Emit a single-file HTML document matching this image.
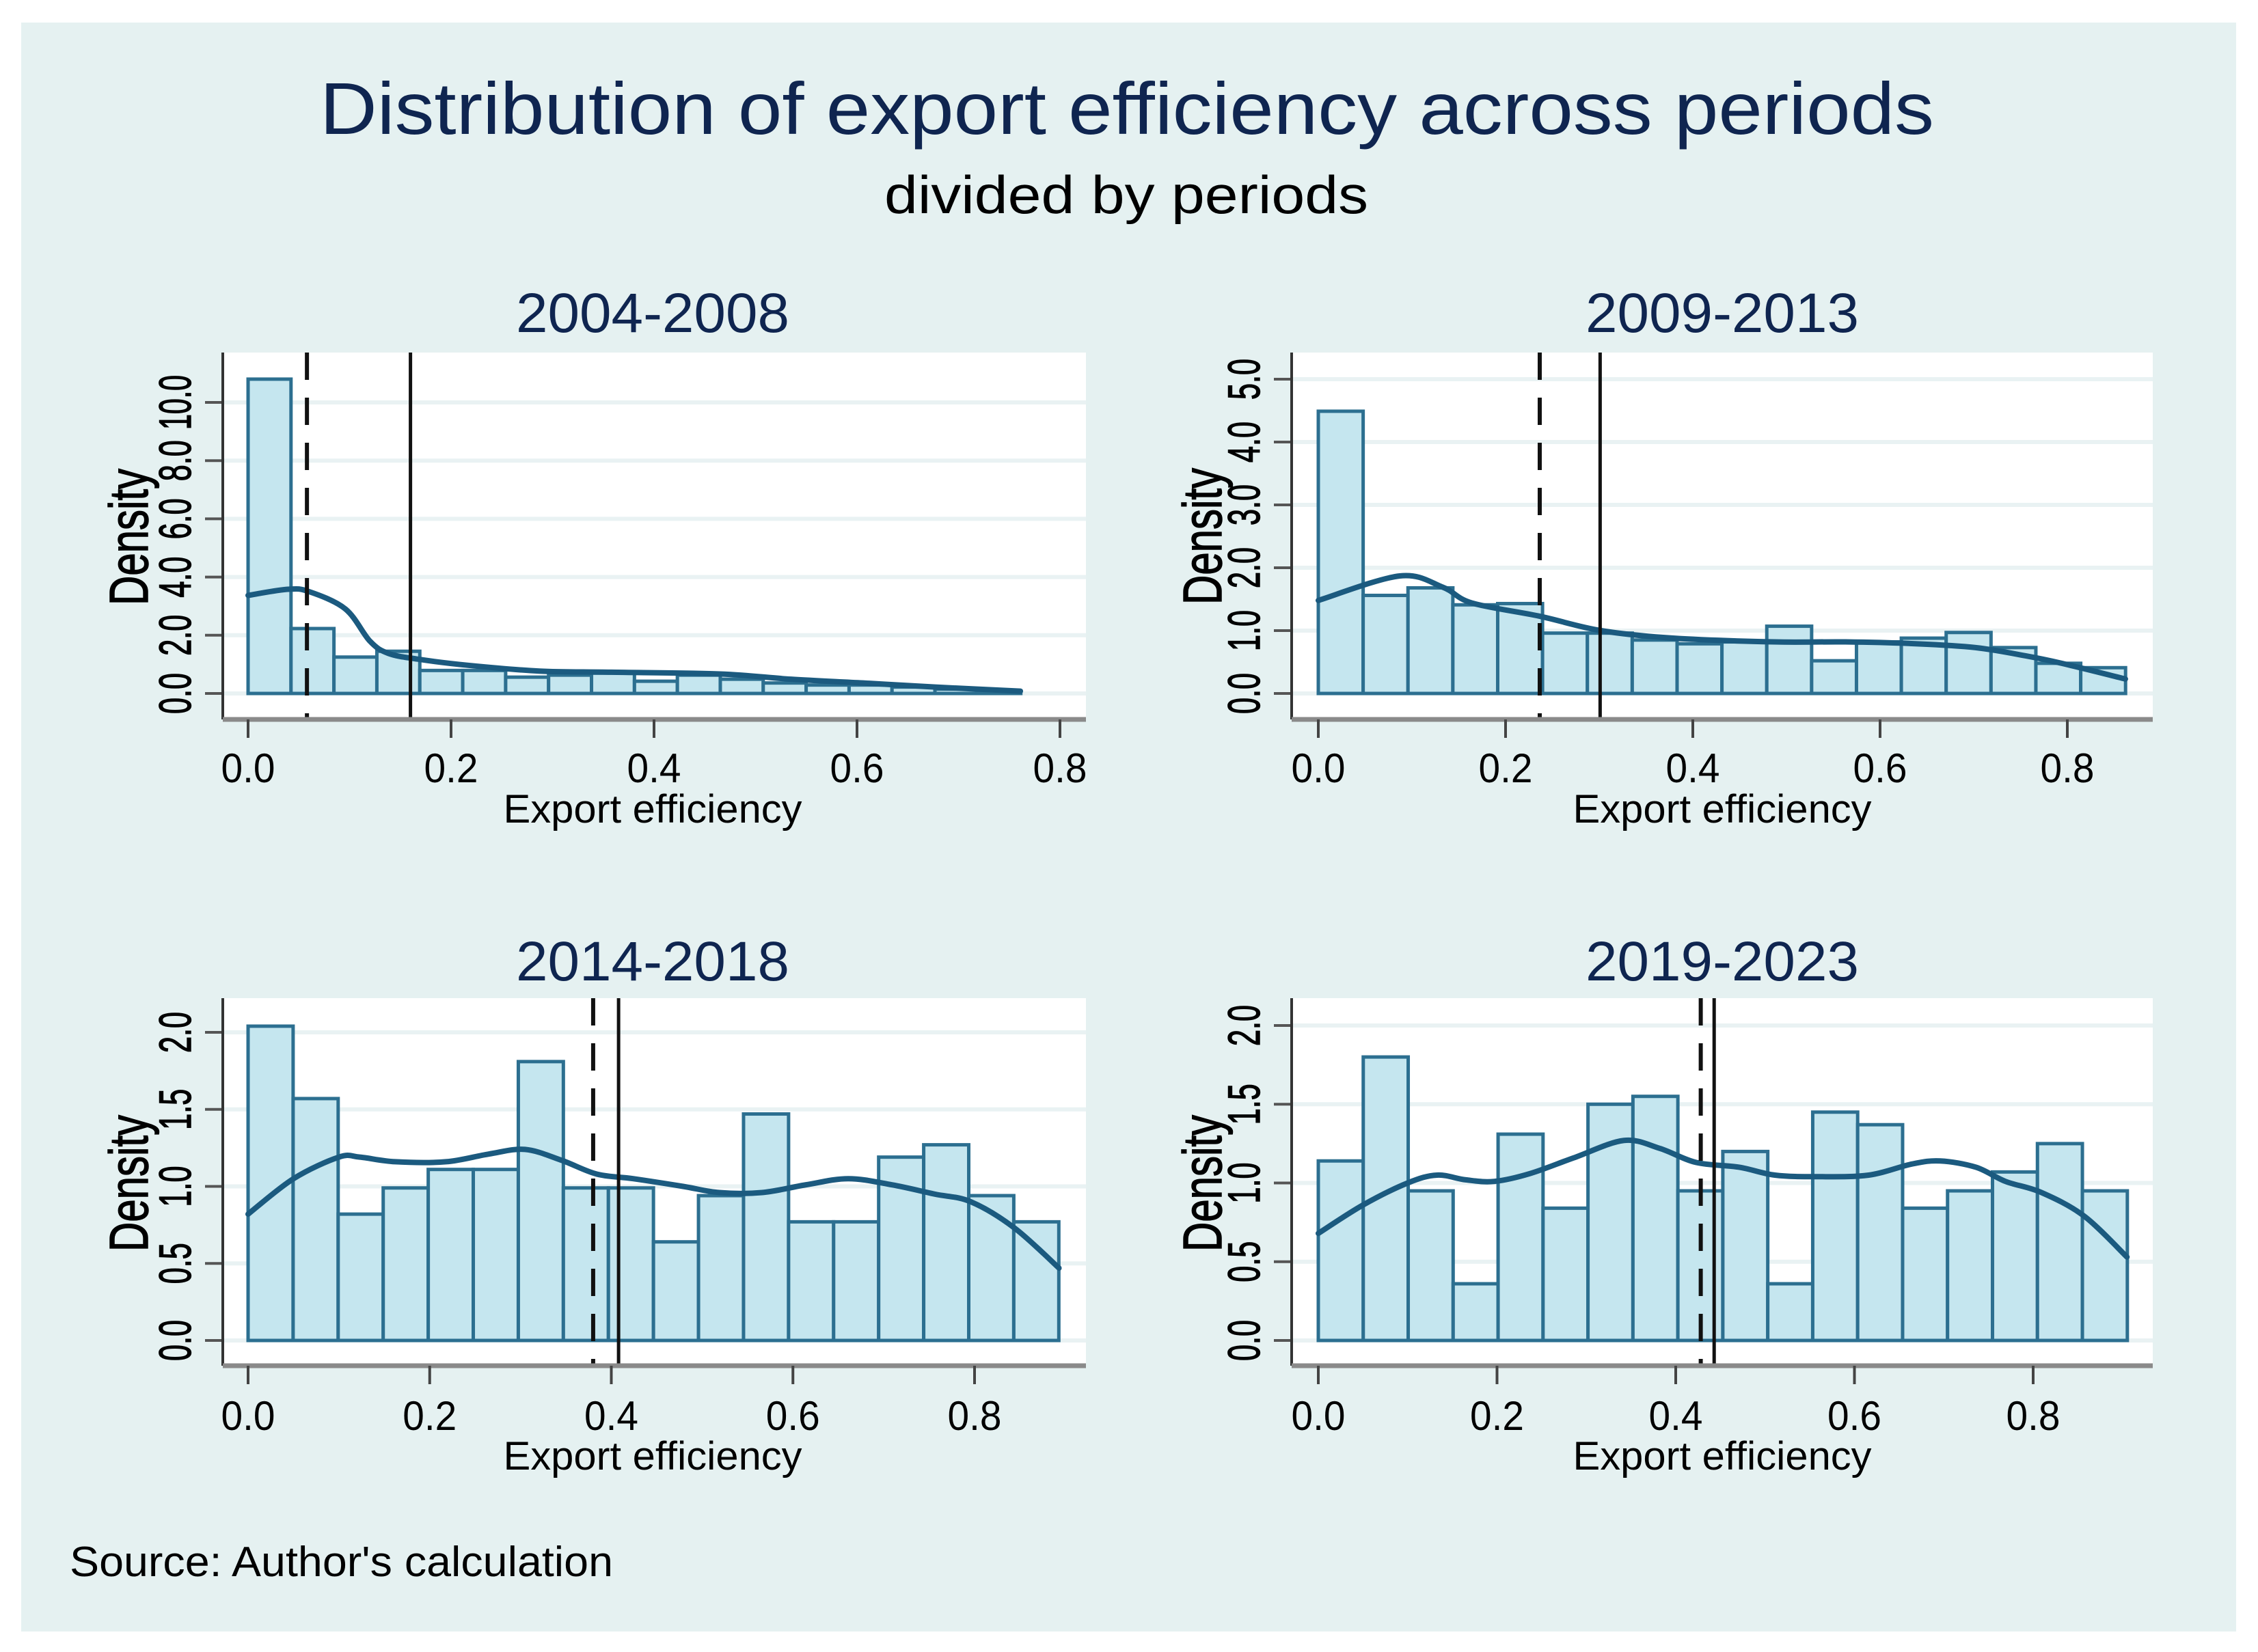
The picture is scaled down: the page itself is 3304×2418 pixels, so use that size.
<!DOCTYPE html>
<html><head><meta charset="utf-8"><style>
html,body{margin:0;padding:0;background:#fff;}
svg{display:block;font-family:"Liberation Sans",Arial,sans-serif;}
</style></head><body>
<svg id="chart" width="3304" height="2418" viewBox="0 0 3304 2418" xmlns="http://www.w3.org/2000/svg">
<rect x="0" y="0" width="3304" height="2418" fill="#ffffff"/>
<rect x="31" y="33" width="3241" height="2355" fill="#e5f1f1"/>
<text x="1649" y="196" text-anchor="middle" font-size="108" fill="#0f2550" textLength="2362" lengthAdjust="spacingAndGlyphs">Distribution of export efficiency across periods</text>
<text x="1648" y="312" text-anchor="middle" font-size="78" fill="#000" textLength="708" lengthAdjust="spacingAndGlyphs">divided by periods</text>
<text x="102" y="2307" font-size="62" fill="#000" textLength="795" lengthAdjust="spacingAndGlyphs">Source: Author's calculation</text>
<g id="panels"></g>
</svg>
<script>
// ---- data ----
const periods = ["2004-2008","2009-2013","2014-2018","2019-2023"];
const binWidths = [0.0423, 0.0479, 0.0496, 0.0503];
const p1Bars = [10.8,2.23,1.25,1.45,0.79,0.79,0.56,0.63,0.70,0.42,0.63,0.49,0.36,0.29,0.29,0.22,0.15,0.08];
const p2Bars = [4.49,1.56,1.68,1.41,1.43,0.96,0.96,0.85,0.79,0.82,1.07,0.52,0.82,0.88,0.97,0.73,0.48,0.41];
const p3Bars = [2.04,1.57,0.82,0.99,1.11,1.11,1.81,0.99,0.99,0.64,0.94,1.47,0.77,0.77,1.19,1.27,0.94,0.77];
const p4Bars = [1.14,1.80,0.95,0.36,1.31,0.84,1.50,1.55,0.95,1.20,0.36,1.45,1.37,0.84,0.95,1.07,1.25,0.95];
const p1KdeX = [0,0.039,0.06,0.096,0.12,0.138,0.167,0.216,0.287,0.358,0.465,0.535,0.606,0.677,0.761];
const p1KdeY = [3.37,3.58,3.5,2.9,1.8,1.38,1.18,0.97,0.77,0.73,0.67,0.49,0.36,0.22,0.08];
const p2KdeX = [0,0.087,0.133,0.164,0.236,0.302,0.379,0.487,0.563,0.64,0.702,0.755,0.794,0.862];
const p2KdeY = [1.48,1.87,1.69,1.44,1.23,1.0,0.88,0.82,0.82,0.79,0.73,0.6,0.48,0.23];
const p3KdeX = [0,0.05,0.1,0.123,0.162,0.218,0.265,0.305,0.345,0.384,0.424,0.479,0.519,0.566,0.614,0.661,0.709,0.756,0.796,0.844,0.893];
const p3KdeY = [0.82,1.05,1.19,1.19,1.16,1.16,1.21,1.24,1.17,1.08,1.05,1.0,0.96,0.96,1.01,1.05,1.01,0.95,0.9,0.73,0.47];
const p4KdeX = [0,0.05,0.1,0.133,0.165,0.197,0.237,0.286,0.342,0.382,0.423,0.471,0.511,0.559,0.616,0.664,0.696,0.736,0.769,0.809,0.857,0.905];
const p4KdeY = [0.68,0.86,1.0,1.05,1.02,1.01,1.06,1.16,1.27,1.22,1.13,1.10,1.05,1.04,1.05,1.12,1.14,1.10,1.01,0.94,0.79,0.53];
const medians = [0.058, 0.2365, 0.38, 0.428];
const means = [0.16, 0.301, 0.408, 0.443];
const xTicks = [0, 0.2, 0.4, 0.6, 0.8];
const xTickLabels = ["0.0","0.2","0.4","0.6","0.8"];
const p1YTicks = [0,2,4,6,8,10];
const p1YLabels = ["0.0","2.0","4.0","6.0","8.0","10.0"];
const p2YTicks = [0,1,2,3,4,5];
const p2YLabels = ["0.0","1.0","2.0","3.0","4.0","5.0"];
const p34YTicks = [0,0.5,1,1.5,2];
const p34YLabels = ["0.0","0.5","1.0","1.5","2.0"];

// ---- layout (pixels) ----
const layouts = [
 {axL:326, plotR:1589, top:516, axB:1053, x0:363, xPer:1485, y0:1015, yPer:42.6, yLabX:279, densX:216, densY:786, cx:955, titleY:486, tickLabY:1145, xTitleY:1204},
 {axL:1890, plotR:3150, top:516, axB:1053, x0:1929, xPer:1370, y0:1015, yPer:92, yLabX:1843, densX:1787, densY:785, cx:2520, titleY:486, tickLabY:1145, xTitleY:1204},
 {axL:326, plotR:1589, top:1461, axB:1999, x0:363, xPer:1328.75, y0:1962, yPer:225.5, yLabX:279, densX:216, densY:1732, cx:955, titleY:1435, tickLabY:2093, xTitleY:2151},
 {axL:1890, plotR:3150, top:1461, axB:1999, x0:1929, xPer:1307.5, y0:1962, yPer:230.5, yLabX:1843, densX:1787, densY:1732, cx:2520, titleY:1435, tickLabY:2093, xTitleY:2151}
];
const barsAll = [p1Bars,p2Bars,p3Bars,p4Bars];
const kdeXAll = [p1KdeX,p2KdeX,p3KdeX,p4KdeX];
const kdeYAll = [p1KdeY,p2KdeY,p3KdeY,p4KdeY];
const yTicksAll = [p1YTicks,p2YTicks,p34YTicks,p34YTicks];
const yLabelsAll = [p1YLabels,p2YLabels,p34YLabels,p34YLabels];

const NS = "http://www.w3.org/2000/svg";
const root = document.getElementById("panels");
function mk(tag, attrs, parent){
  const e = document.createElementNS(NS, tag);
  for (const k in attrs) e.setAttribute(k, attrs[k]);
  parent.appendChild(e);
  return e;
}
function smoothPath(pts){
  let d = "M" + pts[0][0] + "," + pts[0][1];
  for (let i=0;i<pts.length-1;i++){
    const p0 = pts[Math.max(0,i-1)], p1 = pts[i], p2 = pts[i+1], p3 = pts[Math.min(pts.length-1,i+2)];
    const c1x = p1[0]+(p2[0]-p0[0])/6, c1y = p1[1]+(p2[1]-p0[1])/6;
    const c2x = p2[0]-(p3[0]-p1[0])/6, c2y = p2[1]-(p3[1]-p1[1])/6;
    d += " C"+c1x+","+c1y+" "+c2x+","+c2y+" "+p2[0]+","+p2[1];
  }
  return d;
}

periods.forEach((per, i) => {
  const L = layouts[i];
  const sx = v => L.x0 + v * L.xPer;
  const sy = v => L.y0 - v * L.yPer;
  const g = mk("g", {}, root);
  
  

  const t = mk("text", {x:L.cx, y:L.titleY, "text-anchor":"middle", "font-size":82, fill:"#0f2550", textLength:400, lengthAdjust:"spacingAndGlyphs"}, g);
  t.textContent = per;
  
  

  const bg = mk("rect", {x:L.axL, y:L.top, width:L.plotR-L.axL, height:L.axB-L.top, fill:"#ffffff"}, g);
  
  

  const yT = yTicksAll[i], yLab = yLabelsAll[i];
  yT.forEach((v, k) => {
    const y = sy(v);
    const gl = mk("line", {x1:L.axL, x2:L.plotR, y1:y, y2:y, stroke:"#e9f2f3", "stroke-width":6}, g);
    
    
    const tk = mk("line", {x1:L.axL-26, x2:L.axL, y1:y, y2:y, stroke:"#555", "stroke-width":4}, g);
    
    
    const lb = mk("text", {transform:"translate("+L.yLabX+","+y+") rotate(-90)", "text-anchor":"middle", "font-size":66, fill:"#000", stroke:"#000", "stroke-width":1.5, textLength:20*yLab[k].length, lengthAdjust:"spacingAndGlyphs"}, g);
    lb.textContent = yLab[k];
    
    
  });

  const bw = binWidths[i];
  barsAll[i].forEach((v, k) => {
    const x1 = sx(k*bw), x2 = sx((k+1)*bw);
    const b = mk("rect", {x:x1, y:sy(v), width:x2-x1, height:sy(0)-sy(v), fill:"#c5e6ef", stroke:"#2c6f90", "stroke-width":5}, g);
    
    
  });

  const kx = kdeXAll[i], ky = kdeYAll[i];
  const pts = kx.map((v, k) => [sx(v), sy(ky[k])]);
  const kd = mk("path", {d:smoothPath(pts), fill:"none", stroke:"#1b5a7f", "stroke-width":8, "stroke-linecap":"round"}, g);
  
  

  const md = mk("line", {x1:sx(medians[i]), x2:sx(medians[i]), y1:L.top, y2:L.axB, stroke:"#111", "stroke-width":6, "stroke-dasharray":"40 26"}, g);
  
  
  const mn = mk("line", {x1:sx(means[i]), x2:sx(means[i]), y1:L.top, y2:L.axB, stroke:"#111", "stroke-width":5}, g);
  
  

  const ya = mk("line", {x1:L.axL, x2:L.axL, y1:L.top, y2:L.axB, stroke:"#333", "stroke-width":4}, g);
  
  
  const xa = mk("line", {x1:L.axL, x2:L.plotR, y1:L.axB, y2:L.axB, stroke:"#8a8a8a", "stroke-width":7}, g);
  
  

  xTicks.forEach((v, k) => {
    const x = sx(v);
    const tk = mk("line", {x1:x, x2:x, y1:L.axB, y2:L.axB+27, stroke:"#444", "stroke-width":4}, g);
    
    
    const lb = mk("text", {x:x, y:L.tickLabY, "text-anchor":"middle", "font-size":60, fill:"#000", textLength:79, lengthAdjust:"spacingAndGlyphs"}, g);
    lb.textContent = xTickLabels[k];
    
    
  });

  const xt = mk("text", {x:L.cx, y:L.xTitleY, "text-anchor":"middle", "font-size":58, fill:"#000", textLength:437, lengthAdjust:"spacingAndGlyphs"}, g);
  xt.textContent = "Export efficiency";
  
  

  const yt = mk("text", {transform:"translate("+L.densX+","+L.densY+") rotate(-90)", "text-anchor":"middle", "font-size":80, fill:"#000", stroke:"#000", "stroke-width":1.5, textLength:200, lengthAdjust:"spacingAndGlyphs"}, g);
  yt.textContent = "Density";
  
  
});
</script>
</body></html>
